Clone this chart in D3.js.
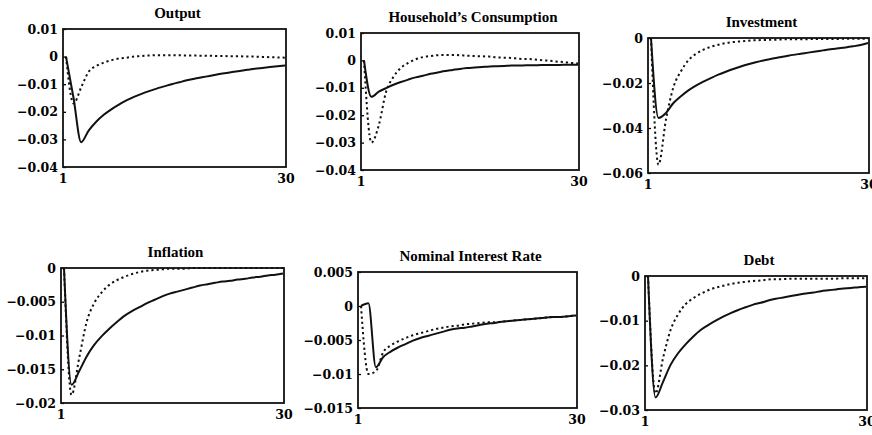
<!DOCTYPE html>
<html>
<head>
<meta charset="utf-8">
<script src="https://cdn.jsdelivr.net/npm/d3@7"></script>
<style>
	body { margin: 0; background: #fff; }
	svg { display: block; }
	.title { font-family: "Liberation Serif", serif; font-weight: bold; font-size: 15px; }
	.tick text { font-family: "DejaVu Serif", serif; font-weight: bold; font-size: 12.5px; }
</style>
</head>
<body>
<svg id="chart" width="872" height="435"></svg>
<script>
//================== DATA ==================
var periods = [1,2,3,4,5,6,7,8,9,10,11,12,13,14,15,16,17,18,19,20,21,22,23,24,25,26,27,28,29,30];
var xTickLabels = [1, 30];

var titles = ["Output", "Household\u2019s Consumption", "Investment", "Inflation", "Nominal Interest Rate", "Debt"];

var outputSolid  = [0, -0.015, -0.031, -0.0268, -0.0236, -0.0211, -0.0191, -0.0174, -0.0159, -0.0146, -0.0135, -0.0125, -0.0116, -0.0108, -0.0100, -0.0093, -0.0086, -0.0080, -0.0075, -0.0070, -0.0065, -0.0060, -0.0056, -0.0052, -0.0048, -0.0044, -0.0041, -0.0038, -0.0035, -0.0032];
var outputDotted = [0, -0.017, -0.0112, -0.0055, -0.0034, -0.0022, -0.0013, -0.0007, -0.0004, 0, 0.0002, 0.0004, 0.0005, 0.0005, 0.0005, 0.0005, 0.0004, 0.0004, 0.0003, 0.0003, 0.0002, 0.0002, 0.0001, 0.0001, 0, 0, -0.0001, -0.0002, -0.0003, -0.0004];

var consSolid  = [0, -0.0133, -0.0114, -0.0101, -0.0089, -0.0079, -0.0070, -0.0062, -0.0056, -0.0049, -0.0044, -0.0039, -0.0035, -0.0031, -0.0028, -0.0026, -0.0024, -0.0022, -0.0021, -0.0020, -0.0019, -0.0019, -0.0018, -0.0018, -0.0017, -0.0017, -0.0017, -0.0016, -0.0016, -0.0016];
var consDotted = [0, -0.0300, -0.0237, -0.0114, -0.0060, -0.0027, -0.0009, 0.0004, 0.0012, 0.0016, 0.0019, 0.0020, 0.0020, 0.0019, 0.0017, 0.0016, 0.0015, 0.0014, 0.0011, 0.0010, 0.0009, 0.0006, 0.0005, 0.0004, 0.0001, -0.0001, -0.0004, -0.0006, -0.0009, -0.0011];

var invSolid  = [0, -0.0355, -0.0333, -0.0289, -0.0259, -0.0233, -0.0212, -0.0194, -0.0178, -0.0163, -0.0150, -0.0138, -0.0127, -0.0117, -0.0108, -0.0100, -0.0093, -0.0087, -0.0081, -0.0075, -0.0070, -0.0065, -0.0060, -0.0055, -0.0050, -0.0046, -0.0042, -0.0037, -0.0031, -0.0022];
var invDotted = [0, -0.0563, -0.0363, -0.0218, -0.0148, -0.0099, -0.0071, -0.0052, -0.0039, -0.0030, -0.0022, -0.0018, -0.0015, -0.0012, -0.0010, -0.0009, -0.0008, -0.0007, -0.0006, -0.0006, -0.0005, -0.0005, -0.0004, -0.0004, -0.0004, -0.0004, -0.0003, -0.0003, -0.0003, -0.0003];

var inflSolid  = [0, -0.0173, -0.0153, -0.0131, -0.0114, -0.0101, -0.0090, -0.0080, -0.0071, -0.0064, -0.0058, -0.0052, -0.0047, -0.0042, -0.0038, -0.0035, -0.0032, -0.0029, -0.0026, -0.0024, -0.0022, -0.0020, -0.0019, -0.0017, -0.0016, -0.0014, -0.0013, -0.0011, -0.0010, -0.0008];
var inflDotted = [0, -0.0188, -0.0134, -0.0080, -0.0052, -0.0036, -0.0025, -0.0018, -0.0013, -0.0009, -0.0006, -0.0004, -0.0003, -0.0002, -0.0001, -0.0001, -0.0001, 0, 0, 0, 0, 0, 0, 0, 0, 0, 0, 0, 0, 0];

var rateSolid  = [0, 0.0004, -0.0090, -0.0075, -0.0067, -0.0061, -0.0056, -0.0051, -0.0047, -0.0044, -0.0041, -0.0038, -0.0035, -0.0033, -0.0032, -0.0030, -0.0028, -0.0026, -0.0025, -0.0023, -0.0022, -0.0021, -0.0020, -0.0019, -0.0018, -0.0017, -0.0016, -0.0016, -0.0015, -0.0014];
var rateDotted = [0, -0.0100, -0.0096, -0.0068, -0.0058, -0.0052, -0.0047, -0.0043, -0.0040, -0.0037, -0.0034, -0.0032, -0.0030, -0.0029, -0.0027, -0.0026, -0.0025, -0.0024, -0.0024, -0.0023, -0.0022, -0.0021, -0.0020, -0.0019, -0.0018, -0.0017, -0.0016, -0.0016, -0.0015, -0.0014];

var debtSolid  = [0, -0.0272, -0.0237, -0.0199, -0.0173, -0.0153, -0.0136, -0.0121, -0.0110, -0.0100, -0.0091, -0.0083, -0.0076, -0.0070, -0.0064, -0.0060, -0.0055, -0.0051, -0.0048, -0.0045, -0.0042, -0.0039, -0.0037, -0.0034, -0.0032, -0.0030, -0.0028, -0.0027, -0.0025, -0.0024];
var debtDotted = [0, -0.0263, -0.0184, -0.0121, -0.0086, -0.0063, -0.0050, -0.0040, -0.0032, -0.0026, -0.0022, -0.0018, -0.0015, -0.0013, -0.0011, -0.0010, -0.0008, -0.0007, -0.0007, -0.0006, -0.0006, -0.0006, -0.0006, -0.0006, -0.0006, -0.0006, -0.0005, -0.0005, -0.0005, -0.0005];

// y tick labels per panel (first and last are the frame limits)
var outputTicks = [0.01, 0, -0.01, -0.02, -0.03, -0.04];
var consTicks   = [0.01, 0, -0.01, -0.02, -0.03, -0.04];
var invTicks    = [0, -0.02, -0.04, -0.06];
var inflTicks   = [0, -0.005, -0.01, -0.015, -0.02];
var rateTicks   = [0.005, 0, -0.005, -0.01, -0.015];
var debtTicks   = [0, -0.01, -0.02, -0.03];

//================== LAYOUT ==================
// frame box of each panel: left, top, right, bottom (pixels)
var frames = [
	[63, 29, 286, 167],
	[361, 33, 579, 170],
	[648, 38, 869, 173],
	[61, 268, 284, 403],
	[358, 272, 577, 408],
	[645, 276, 867, 410]
];

var panels = [
	{solid: outputSolid, dotted: outputDotted, ticks: outputTicks},
	{solid: consSolid,   dotted: consDotted,   ticks: consTicks},
	{solid: invSolid,    dotted: invDotted,    ticks: invTicks},
	{solid: inflSolid,   dotted: inflDotted,   ticks: inflTicks},
	{solid: rateSolid,   dotted: rateDotted,   ticks: rateTicks},
	{solid: debtSolid,   dotted: debtDotted,   ticks: debtTicks}
];

var svg = d3.select("#chart");

function tickFormat(d) {
	var s = String(+Math.abs(d).toFixed(4));
	return d < 0 ? "\u2212" + s : s;
}

function drawPanel(p, i) {
	var f = frames[i];
	var w = f[2] - f[0], h = f[3] - f[1];
	var g = svg.append("g").attr("transform", "translate(" + f[0] + "," + f[1] + ")");

	var x = d3.scaleLinear().domain([1, 30]).range([3, w - 1]);
	var y = d3.scaleLinear().domain(d3.extent(p.ticks)).range([h, 0]);

	//left axis, short ticks pointing inside the frame
	var yAxis = g.append("g")
		.call(d3.axisLeft(y).tickValues(p.ticks).tickFormat(tickFormat).tickSizeInner(-3).tickSizeOuter(0).tickPadding(5));
	yAxis.select(".domain").remove();
	yAxis.selectAll(".tick line").attr("stroke-width", 1.3);

	//bottom axis: only the 1 and 30 labels, pinned to the frame corners
	var xAxis = g.append("g")
		.attr("transform", "translate(0," + h + ")")
		.call(d3.axisBottom(x).tickValues(xTickLabels).tickSize(0).tickPadding(5));
	xAxis.select(".domain").remove();
	xAxis.selectAll(".tick text").attr("dy", "0.85em");
	xAxis.selectAll(".tick").attr("transform", function(d) {
		return "translate(" + (d === 1 ? 0 : w) + ",0)";
	});

	var line = d3.line()
		.x(function(d, j) { return x(periods[j]); })
		.y(function(d) { return y(d); })
		.curve(d3.curveMonotoneX);

	g.append("path")
		.attr("d", line(p.dotted))
		.attr("fill", "none")
		.attr("stroke", "#111")
		.attr("stroke-width", 2)
		.attr("stroke-dasharray", "2.2,3");

	g.append("path")
		.attr("d", line(p.solid))
		.attr("fill", "none")
		.attr("stroke", "#111")
		.attr("stroke-width", 2);

	//frame
	g.append("rect")
		.attr("width", w).attr("height", h)
		.attr("fill", "none")
		.attr("stroke", "#111")
		.attr("stroke-width", 1.8);

	g.append("text")
		.attr("class", "title")
		.attr("x", w / 2 + 3)
		.attr("y", -11)
		.attr("text-anchor", "middle")
		.text(titles[i]);
}

panels.forEach(drawPanel);
</script>
</body>
</html>
